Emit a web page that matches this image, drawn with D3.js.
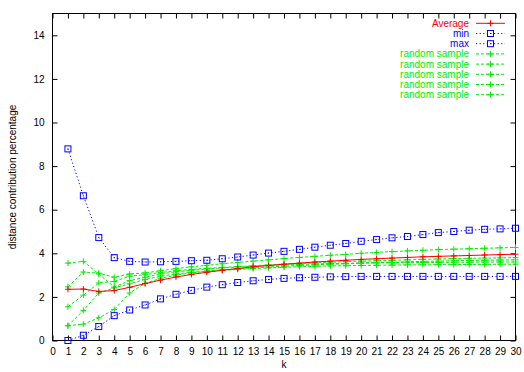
<!DOCTYPE html>
<html>
<head>
<meta charset="utf-8">
<script src="https://cdn.jsdelivr.net/npm/d3@7"></script>
<style>
  html, body { margin: 0; padding: 0; background: #fff; }
  svg { display: block; font-family: "Liberation Sans", Arial, Helvetica, sans-serif; }
</style>
</head>
<body>
<svg id="chart" width="524" height="372"></svg>
<script>
// k = 1 .. 30
const ks = d3.range(1, 31);

const average = [2.35, 2.36, 2.25, 2.29, 2.44, 2.61, 2.77, 2.91, 3.03, 3.13,
                 3.22, 3.30, 3.38, 3.44, 3.50, 3.55, 3.60, 3.64, 3.68, 3.72,
                 3.75, 3.78, 3.81, 3.84, 3.86, 3.88, 3.90, 3.92, 3.94, 3.96];

const minVals = [0.00, 0.24, 0.64, 1.14, 1.40, 1.63, 1.91, 2.12, 2.30, 2.45,
                 2.56, 2.66, 2.74, 2.80, 2.85, 2.88, 2.90, 2.92, 2.93, 2.94,
                 2.94, 2.94, 2.94, 2.94, 2.94, 2.94, 2.94, 2.94, 2.94, 2.94];

const maxVals = [8.79, 6.64, 4.72, 3.80, 3.63, 3.60, 3.61, 3.63, 3.66, 3.68,
                 3.75, 3.83, 3.92, 4.01, 4.09, 4.18, 4.28, 4.37, 4.45, 4.55,
                 4.63, 4.71, 4.77, 4.86, 4.95, 5.00, 5.06, 5.10, 5.12, 5.15];

const sample1 = [3.55, 3.63, 3.05, 2.45, 2.75, 2.90, 3.05, 3.15, 3.22, 3.28,
                 3.33, 3.37, 3.41, 3.44, 3.47, 3.49, 3.51, 3.53, 3.54, 3.55,
                 3.56, 3.57, 3.57, 3.58, 3.58, 3.59, 3.59, 3.60, 3.60, 3.60];

const sample2 = [2.46, 3.14, 3.09, 2.90, 3.05, 3.10, 3.20, 3.30, 3.38, 3.45,
                 3.52, 3.58, 3.64, 3.70, 3.76, 3.81, 3.86, 3.91, 3.95, 4.00,
                 4.04, 4.08, 4.11, 4.14, 4.17, 4.19, 4.21, 4.23, 4.25, 4.27];

const sample3 = [1.55, 2.08, 2.64, 2.71, 2.95, 3.02, 3.12, 3.20, 3.26, 3.31,
                 3.35, 3.39, 3.43, 3.47, 3.50, 3.53, 3.56, 3.59, 3.62, 3.64,
                 3.66, 3.68, 3.70, 3.72, 3.74, 3.76, 3.77, 3.78, 3.79, 3.80];

const sample4 = [0.68, 1.38, 2.18, 2.41, 2.60, 2.80, 2.95, 3.05, 3.13, 3.19,
                 3.24, 3.29, 3.33, 3.37, 3.41, 3.44, 3.47, 3.50, 3.52, 3.55,
                 3.57, 3.59, 3.61, 3.63, 3.64, 3.66, 3.67, 3.68, 3.69, 3.70];

const sample5 = [0.68, 0.75, 1.04, 1.42, 2.18, 2.62, 2.85, 3.00, 3.10, 3.17,
                 3.22, 3.26, 3.30, 3.33, 3.36, 3.38, 3.40, 3.42, 3.43, 3.44,
                 3.45, 3.46, 3.47, 3.47, 3.48, 3.48, 3.49, 3.49, 3.50, 3.50];

const xTicks = d3.range(0, 31);
const yTicks = [0, 2, 4, 6, 8, 10, 12, 14];

const xLabel = "k";
const yLabel = "distance contribution percentage";

// series draw order and legend order
const series = [
  { name: "Average",       values: average, color: "#ff0000", dash: null,      mark: "plus" },
  { name: "min",           values: minVals, color: "#0000ff", dash: "1.2,2.4", mark: "box" },
  { name: "max",           values: maxVals, color: "#0000ff", dash: "1.2,2.4", mark: "box" },
  { name: "random sample", values: sample1, color: "#00ee00", dash: "3,2",     mark: "plus" },
  { name: "random sample", values: sample2, color: "#00ee00", dash: "3,2",     mark: "plus" },
  { name: "random sample", values: sample3, color: "#00ee00", dash: "3,2",     mark: "plus" },
  { name: "random sample", values: sample4, color: "#00ee00", dash: "3,2",     mark: "plus" },
  { name: "random sample", values: sample5, color: "#00ee00", dash: "3,2",     mark: "plus" }
];

const svg = d3.select("#chart");
const W = 524, H = 372;
const margin = { left: 52.5, right: 8.5, top: 13.5, bottom: 31.5 };

const x = d3.scaleLinear().domain([0, 30]).range([margin.left, W - margin.right]);
const y = d3.scaleLinear().domain([0, 15]).range([H - margin.bottom, margin.top]);

const fontSize = 10;

// axes with inward ticks, mirrored on top and right
const axisG = svg.append("g").attr("font-size", fontSize);

axisG.append("g")
  .attr("transform", `translate(0,${y(0)})`)
  .call(d3.axisBottom(x).tickValues(xTicks).tickSize(-5).tickPadding(7).tickFormat(d3.format("d")));
axisG.append("g")
  .attr("transform", `translate(0,${y(15)})`)
  .call(d3.axisTop(x).tickValues(xTicks).tickSize(-5).tickFormat(""));
axisG.append("g")
  .attr("transform", `translate(${x(0)},0)`)
  .call(d3.axisLeft(y).tickValues(yTicks).tickSize(-5).tickPadding(8).tickFormat(d3.format("d")));
axisG.append("g")
  .attr("transform", `translate(${x(30)},0)`)
  .call(d3.axisRight(y).tickValues(yTicks).tickSize(-5).tickFormat(""));

axisG.selectAll(".domain").remove();
axisG.selectAll(".tick line").attr("stroke", "#000").attr("stroke-width", 1);
axisG.selectAll(".tick text").attr("fill", "#000").attr("font-family", "Liberation Sans, Arial, sans-serif");

// plot border
svg.append("rect")
  .attr("x", x(0)).attr("y", y(15))
  .attr("width", x(30) - x(0)).attr("height", y(0) - y(15))
  .attr("fill", "none").attr("stroke", "#000").attr("stroke-width", 1);

// axis titles
svg.append("text")
  .attr("x", (x(0) + x(30)) / 2).attr("y", 368)
  .attr("text-anchor", "middle").attr("font-size", fontSize).attr("fill", "#000")
  .text(xLabel);

svg.append("text")
  .attr("transform", `translate(16,${(y(0) + y(15)) / 2}) rotate(-90)`)
  .attr("text-anchor", "middle").attr("font-size", fontSize).attr("fill", "#000")
  .text(yLabel);

// marker drawing helper
function drawMark(g, cx, cy, kind, color) {
  if (kind === "plus") {
    g.append("path")
      .attr("d", `M${cx - 3},${cy}H${cx + 3}M${cx},${cy - 3}V${cy + 3}`)
      .attr("stroke", color).attr("stroke-width", 1).attr("fill", "none");
  } else {
    g.append("rect")
      .attr("x", cx - 3).attr("y", cy - 3).attr("width", 6).attr("height", 6)
      .attr("stroke", color).attr("stroke-width", 1).attr("fill", "none");
    g.append("rect")
      .attr("x", cx - 0.5).attr("y", cy - 0.5).attr("width", 1).attr("height", 1)
      .attr("fill", color);
  }
}

const line = d3.line().x(d => x(d[0])).y(d => y(d[1]));
const plot = svg.append("g");

// draw in reverse so Average sits on top
series.slice().reverse().forEach(s => {
  const g = plot.append("g");
  const pts = ks.map((k, i) => [k, s.values[i]]);
  g.append("path")
    .attr("d", line(pts))
    .attr("fill", "none")
    .attr("stroke", s.color)
    .attr("stroke-width", 1)
    .attr("stroke-dasharray", s.dash);
  pts.forEach(p => drawMark(g, x(p[0]), y(p[1]), s.mark, s.color));
});

// legend
const legend = svg.append("g").attr("font-size", fontSize);
const legTextX = 469, legLineX0 = 476, legLineX1 = 505, legY0 = 23.3, legStep = 10.2;
series.forEach((s, i) => {
  const cy = legY0 + i * legStep;
  legend.append("text")
    .attr("x", legTextX).attr("y", cy)
    .attr("dy", "0.35em")
    .attr("text-anchor", "end")
    .attr("fill", s.color)
    .text(s.name);
  legend.append("line")
    .attr("x1", legLineX0).attr("x2", legLineX1)
    .attr("y1", cy).attr("y2", cy)
    .attr("stroke", s.color).attr("stroke-width", 1)
    .attr("stroke-dasharray", s.dash);
  drawMark(legend, (legLineX0 + legLineX1) / 2, cy, s.mark, s.color);
});
</script>
</body>
</html>
